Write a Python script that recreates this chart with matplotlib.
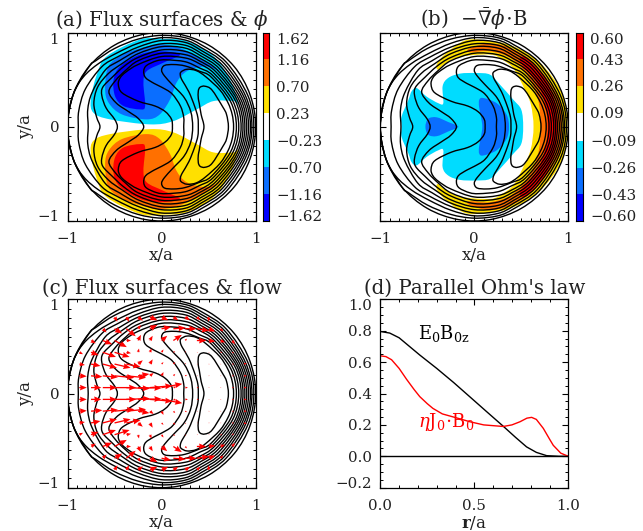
import numpy as np
import matplotlib
matplotlib.use("Agg")
import matplotlib.pyplot as plt
from matplotlib.path import Path
from matplotlib.patches import PathPatch
from matplotlib.colors import ListedColormap
from matplotlib.ticker import MultipleLocator

# ---- flux surfaces, upper half (x/a, y/a); mirrored in y
s1x=[.71,.69,.65,.535,.46,.41,.39,.39,.40,.42,.45]
s1y=[0,.13,.21,.39,.43,.42,.38,.30,.25,.13,0]
s2x=[.765,.75,.705,.62,.47,.37,.27,.205,.20,.22,.29,.35,.385,.39]
s2y=[0,.13,.256,.39,.53,.595,.61,.58,.54,.49,.37,.22,.10,0]
s3x=[.795,.733,.527,.40,.25,.13,.03,0,.03,.12,.24,.31,.33]
s3y=[0,.267,.527,.59,.645,.66,.65,.60,.54,.44,.31,.16,0]
s4x=[.82,.756,.544,.40,.25,.05,-.05,-.16,-.19,-.17,-.08,0,.11,.20,.235,.235]
s4y=[0,.275,.544,.625,.69,.71,.70,.65,.59,.52,.46,.42,.35,.22,.10,0]
s5x=[.845,.78,.562,.40,.25,0,-.25,-.38,-.44,-.46,-.42,-.245,-.07,.04,.105,.115]
s5y=[0,.284,.562,.67,.73,.745,.66,.58,.52,.45,.36,.27,.22,.16,.08,0]
s6x=[.865,.80,.58,.40,.25,0,-.25,-.38,-.49,-.56,-.48,-.35,-.25,-.19]
s6y=[0,.29,.58,.70,.765,.78,.70,.60,.49,.37,.25,.16,.09,0]
s7x=[.885,.817,.597,.42,.25,0,-.25,-.40,-.525,-.625,-.635,-.59,-.50,-.47]
s7y=[0,.298,.597,.72,.80,.815,.735,.64,.525,.42,.33,.20,.08,0]
s8x=[.905,.836,.615,.42,.25,0,-.25,-.42,-.565,-.68,-.72,-.69,-.655]
s8y=[0,.304,.615,.75,.835,.85,.775,.67,.565,.42,.25,.10,0]
s9x=[.925,.855,.633,.42,.25,0,-.25,-.45,-.60,-.74,-.785,-.78]
s9y=[0,.311,.633,.78,.865,.88,.81,.70,.60,.36,.18,0]
s10x=[.945,.874,.65,.42,.25,0,-.25,-.47,-.636,-.81,-.88,-.885]
s10y=[0,.318,.65,.81,.895,.915,.845,.74,.636,.40,.17,0]
s11x=[.96,.893,.668,.42,.25,0,-.25,-.48,-.67,-.83,-.94,-1]
s11y=[0,.325,.668,.84,.92,.945,.885,.78,.67,.53,.34,0]
s12x=[.98,.916,.686,.42,.25,0,-.25,-.50,-.70,-.77,-.94,-1]
s12y=[0,.333,.686,.87,.945,.97,.93,.83,.70,.64,.34,0]
s13x=[1,.94,.77,.50,.17,-.17,-.50,-.77,-.94,-1]
s13y=[0,.34,.64,.866,.985,.985,.866,.64,.34,0]
surfaces=[(s1x,s1y),(s2x,s2y),(s3x,s3y),(s4x,s4y),(s5x,s5y),(s6x,s6y),(s7x,s7y),(s8x,s8y),(s9x,s9y),(s10x,s10y),(s11x,s11y),(s12x,s12y),(s13x,s13y)]

# ---- potential bands, panel (a), upper half; lower half is the opposite sign
phi1x=[.81,.727,.55,.267,0,-.228,-.582,-.688,-.752,-.724,-.547,-.122,.126,.373,.55,.763]
phi1y=[.254,.50,.75,.908,.933,.926,.749,.555,.29,.148,.078,.025,.06,.184,.272,.272]
phi2x=[.62,.48,.232,0,-.2,-.405,-.564,-.60,-.56,-.42,-.16,-.02,.09,.16,.27,.47]
phi2y=[.59,.68,.82,.873,.84,.767,.643,.40,.25,.13,.078,.13,.29,.47,.59,.64]
phi3x=[.196,.02,-.158,-.193,-.175,-.228,-.405,-.495,-.51,-.44,-.228,-.016]
phi3y=[.767,.68,.59,.467,.22,.184,.22,.325,.50,.64,.767,.80]

# ---- field-line term, panel (b); these are mirrored in y
b_cyan_x=[.52,.50,.415,.273,.167,.025,-.152,-.277,-.337,-.33,-.383,-.507,-.613,-.667,-.70,-.773,-.773]
b_cyan_y=[0,.18,.287,.447,.553,.57,.564,.518,.43,.25,.25,.32,.41,.376,.287,.11,0]
b_blue1_x=[-.17,-.277,-.40,-.49,-.52]
b_blue1_y=[0,.05,.10,.085,0]
b_blue2_x=[.369,.344,.238,.096,.053,.05,.07,.085]
b_blue2_y=[0,.128,.25,.305,.287,.216,.11,0]
b_yellow_x=[.99,.93,.69,.40,.13,-.10,-.316,-.40,-.387,-.32,-.16,.167,.30,.415,.52,.60,.63]
b_yellow_y=[0,.36,.69,.86,.915,.915,.766,.66,.606,.66,.74,.766,.71,.62,.43,.24,0]
b_orange_x=[.935,.90,.66,.42,.167,-.05,-.05,.167,.40,.58,.68,.705]
b_orange_y=[0,.30,.65,.82,.885,.83,.79,.80,.72,.52,.28,0]
b_red_x=[.885,.86,.76,.55,.486,.66,.75,.78]
b_red_y=[0,.25,.50,.73,.69,.47,.25,0]

# ---- flow arrows, upper half (lower half: same u, opposite v)
flow_x=[-.875,-.75,-.625,-.5,-.375,-.25,-.125,0,.125,.25,.375,.5,.625,.75,.875]
flow_y=[.0625,.1875,.3125,.4375,.5625,.6875,.8125]
n=np.nan
flow_u=[
[.08,.11,.15,.23,.25,.25,.24,.22,.03,.03,.02,.01,.01,.02,.03],
[.08,.12,.16,.21,.21,.12,.04,.02,.02,.02,.01,.01,.01,.02,.03],
[.06,.10,.15,.17,.15,.05,.03,.02,.02,.01,.01,.01,.01,.02,.03],
[.04,.08,.14,.16,.05,.01,.02,.02,.02,.01,.01,.01,.02,.02,n],
[n,.05,.10,.13,.05,.03,.03,.06,.09,.02,.10,.07,.05,.03,n],
[n,n,.04,.08,.10,.03,.08,.10,.13,.12,.13,.07,.03,n,n],
[n,n,n,.03,.03,.05,.08,.07,.05,.05,.035,0,n,n,n]]
flow_v=[
[0,0,0,0,-.01,-.005,.02,.04,.01,0,0,0,0,0,0],
[-.005,-.01,-.015,-.02,-.02,.02,.03,.04,.02,.01,0,0,0,0,0],
[-.01,-.02,-.04,-.04,-.03,.04,.05,.02,.02,.01,0,0,0,0,.01],
[-.02,-.03,-.05,-.05,-.01,.04,.04,.03,.01,.01,0,0,0,-.01,n],
[n,-.03,-.04,-.07,0,.06,.05,.05,.06,.02,0,-.01,-.02,-.04,n],
[n,n,-.04,-.05,-.08,.04,.04,.02,.01,0,-.02,-.03,-.03,n,n],
[n,n,n,-.05,-.05,-.04,-.035,-.035,-.035,-.035,-.035,-.05,n,n,n]]

# ---- panel (d)
r_black=[0,.05,.1,.15,.21,.3,.39,.48,.565,.66,.72,.778,.83,.885,.95,1]
e0b0z=[.795,.785,.755,.705,.645,.56,.47,.375,.285,.185,.12,.06,.025,.004,0,0]
r_red=[0,.03,.06,.1,.14,.18,.21,.25,.28,.33,.39,.477,.55,.654,.70,.743,.78,.805,.83,.867,.90,.92,.96,1]
etaj=[.64,.635,.615,.56,.49,.425,.38,.335,.305,.27,.25,.22,.20,.19,.20,.22,.243,.248,.235,.178,.11,.07,.02,0]

levels_a=[-1.62,-1.16,-.70,-.23,.23,.70,1.16,1.62]
levels_b=[-.60,-.43,-.26,-.09,.09,.26,.43,.60]
band_colors=['#0000ff','#0a6eff','#00dcff','#ffffff','#ffe000','#ff7000','#ff0000']

plt.rcParams['font.family']='DejaVu Serif'
plt.rcParams['mathtext.fontset']='dejavuserif'
TXT='#222222'
plt.rcParams.update({'text.color':TXT,'axes.labelcolor':TXT,'xtick.labelcolor':TXT,'ytick.labelcolor':TXT,
                     'axes.linewidth':0.9,'font.size':10})
TITLE=14.2
TICK=10.8
LAB=12

W,H=643,531
fig=plt.figure(figsize=(W/100,H/100),dpi=100)
def axpx(l,t,r,b):
    return fig.add_axes([l/W,1-b/H,(r-l)/W,(b-t)/H])

def closed(x,y):
    P=np.column_stack([x,y]).astype(float); N=len(P)
    v=[P[0]];c=[Path.MOVETO]
    for i in range(N):
        p0,p1,p2,p3=P[i-1],P[i],P[(i+1)%N],P[(i+2)%N]
        v+= [p1+(p2-p0)/6,p2-(p3-p1)/6,p2]; c+=[Path.CURVE4]*3
    return Path(v,c)

def mirrored(x,y):
    x=list(x);y=list(y)
    return x+x[-2:0:-1],y+[-a for a in y[-2:0:-1]]

def draw_surfaces(ax):
    for x,y in surfaces:
        X,Y=mirrored(x,y)
        ax.add_patch(PathPatch(closed(X,Y),fc='none',ec='black',lw=1.0,zorder=5))

def end_labels(ax):
    labs=ax.get_yticklabels()
    labs[0].set_va('baseline');labs[-1].set_va('top')

def style(ax):
    ax.set_xlim(-1,1);ax.set_ylim(-1,1)
    ax.set_xticks([-1,0,1]);ax.set_yticks([-1,0,1])
    ax.xaxis.set_minor_locator(MultipleLocator(.1));ax.yaxis.set_minor_locator(MultipleLocator(.1))
    ax.tick_params(which='major',direction='in',top=True,right=True,length=4,width=.8,pad=6,labelsize=TICK)
    ax.tick_params(which='minor',direction='in',top=True,right=True,length=2,width=.7)
    ax.set_xticklabels(['\u22121','0','1'])
    ax.set_yticklabels(['\u22121','0','1'])
    end_labels(ax)
    ax.tick_params(axis='x',pad=8)
    ax.set_xlabel('x/a',labelpad=1,fontsize=LAB)
    ax.set_ylabel('y/a',labelpad=2,fontsize=LAB)

def colorbar(l,t,r,b,levels):
    c=axpx(l,t,r,b)
    Y=np.array(levels)
    c.pcolormesh([0,1],Y,np.arange(7).reshape(-1,1),cmap=ListedColormap(band_colors),vmin=-.5,vmax=6.5)
    c.set_xticks([]);c.yaxis.tick_right()
    c.set_yticks(levels);c.set_yticklabels([f'{v:.2f}'.replace('-','\u2212') for v in levels])
    c.tick_params(axis='y',length=0,pad=5,labelsize=TICK)
    end_labels(c)
    for s in c.spines.values(): s.set_linewidth(.8)

# (a)
a=axpx(67.5,32.5,255.7,221)
style(a)
for (x,y),cold,warm in [((phi1x,phi1y),band_colors[2],band_colors[4]),((phi2x,phi2y),band_colors[1],band_colors[5]),((phi3x,phi3y),band_colors[0],band_colors[6])]:
    a.add_patch(PathPatch(closed(x,y),fc=cold,ec='none',zorder=1))
    a.add_patch(PathPatch(closed(x,[-v for v in y]),fc=warm,ec='none',zorder=1))
draw_surfaces(a)
a.set_title(r'(a) Flux surfaces & $\phi$',fontsize=TITLE,pad=4)
colorbar(262.7,32.5,269.3,221,levels_a)

# (b)
b=axpx(380.3,32.5,568.3,221)
style(b);b.set_ylabel('');b.set_yticklabels([])
for (x,y),col in [((b_cyan_x,b_cyan_y),2),((b_blue1_x,b_blue1_y),1),((b_blue2_x,b_blue2_y),1),((b_yellow_x,b_yellow_y),4),((b_orange_x,b_orange_y),5),((b_red_x,b_red_y),6)]:
    X,Y=mirrored(x,y)
    b.add_patch(PathPatch(closed(X,Y),fc=band_colors[col],ec='none',zorder=1))
draw_surfaces(b)
b.set_title(r'(b)  $-\bar{\nabla}\phi\!\cdot\!$B',fontsize=TITLE,pad=4)
colorbar(576.3,32.5,583.3,221,levels_b)

# (c)
c=axpx(67.5,299.3,255.7,487.7)
style(c)
draw_surfaces(c)
fx,fy=np.meshgrid(flow_x,flow_y)
U=np.array(flow_u);V=np.array(flow_v)
for sgn in (1,-1):
    c.quiver(fx,sgn*fy,U,sgn*V,angles='xy',scale_units='xy',scale=1,units='xy',width=.014,
             headwidth=4.5,headlength=5.5,headaxislength=5,minlength=0,minshaft=1.1,color='#ff0000',zorder=6,pivot='tail')
c.set_title('(c) Flux surfaces & flow',fontsize=TITLE,pad=4)

# (d)
d=axpx(380.3,299.3,568.3,487.7)
d.plot(r_black,e0b0z,color='black',lw=1)
d.plot(r_red,etaj,color='#ff0000',lw=1)
d.axhline(0,color='black',lw=1)
d.set_xlim(0,1);d.set_ylim(-.2,1)
d.set_xticks([0,.5,1]);d.set_xticklabels(['0.0','0.5','1.0'])
d.set_yticks([-.2,0,.2,.4,.6,.8,1]);d.set_yticklabels(['\u22120.2','0.0','0.2','0.4','0.6','0.8','1.0'])
end_labels(d)
d.xaxis.set_minor_locator(MultipleLocator(.1));d.yaxis.set_minor_locator(MultipleLocator(.05))
d.tick_params(which='major',direction='in',top=True,right=True,length=4,width=.8,pad=6,labelsize=TICK)
d.tick_params(which='minor',direction='in',top=True,right=True,length=2,width=.7)
d.tick_params(axis='x',pad=8)
d.set_xlabel(r'$\mathbf{r}$/a',labelpad=1,fontsize=LAB)
d.text(.2,.785,r'$\mathrm{E_0B_{0z}}$',fontsize=13,color='black',va='center')
d.text(.2,.218,r'$\eta\mathrm{J_0\!\cdot\!B_0}$',fontsize=13,color='#ff0000',va='center')
d.set_title("(d) Parallel Ohm's law",fontsize=TITLE,pad=4)

fig.savefig('out.png',dpi=100)
